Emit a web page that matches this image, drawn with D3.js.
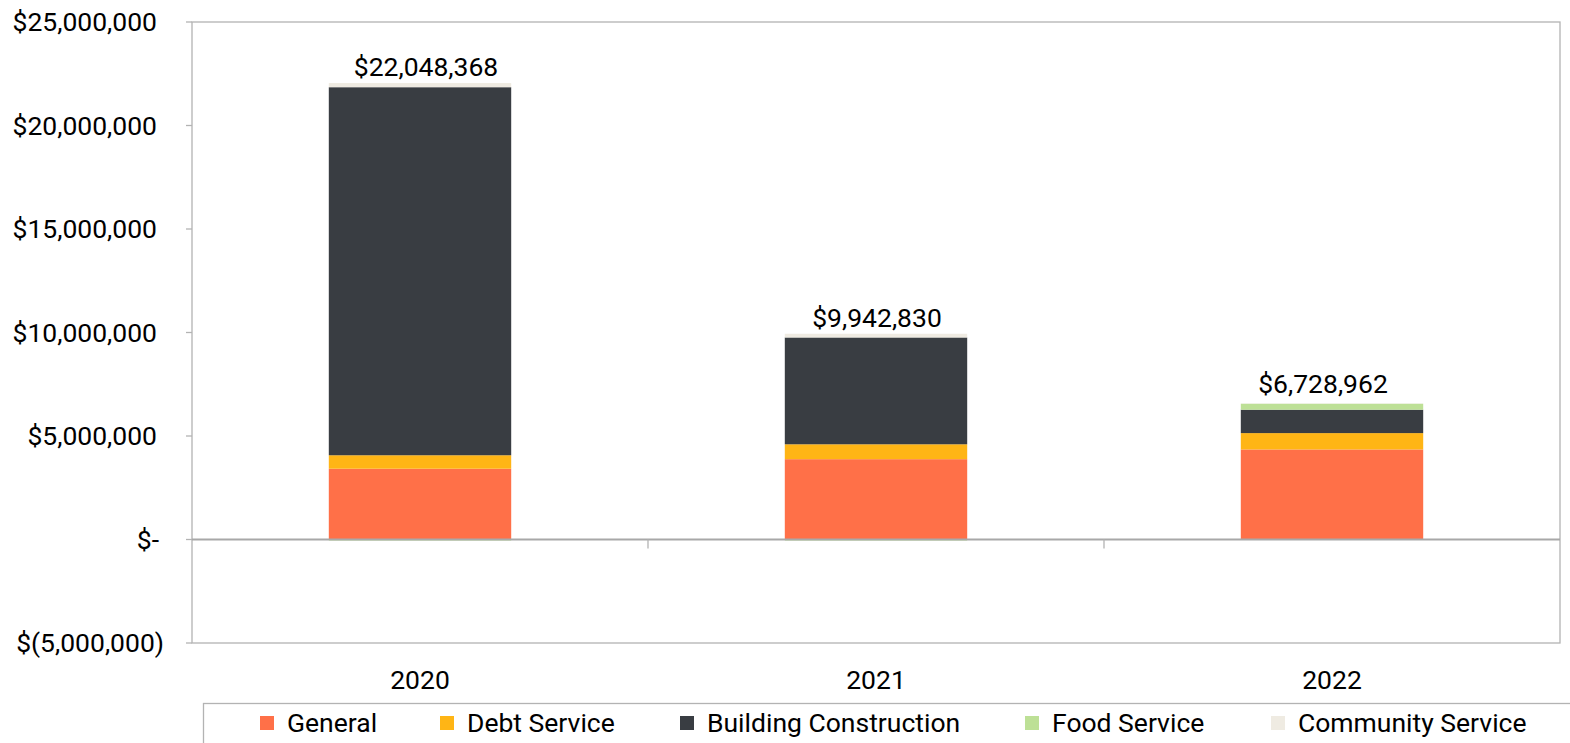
<!DOCTYPE html>
<html>
<head>
<meta charset="utf-8">
<script src="https://cdn.jsdelivr.net/npm/d3@7"></script>
<style>
  html, body { margin: 0; padding: 0; background: #fff; }
  svg { display: block; font-family: Roboto, "Noto Sans", sans-serif; }
</style>
</head>
<body>
<svg id="chart" width="1570" height="743"></svg>
<script>
const years = ["2020", "2021", "2022"];
const seriesNames = ["General", "Debt Service", "Building Construction", "Food Service", "Community Service"];
const general = [3420000, 3880000, 4350000];
const debtService = [650000, 720000, 790000];
const buildingConstruction = [17780000, 5160000, 1130000];
const foodService = [-50000, -50000, 290000];
const communityService = [200000, 180000, 20000];
const totalLabels = ["$22,048,368", "$9,942,830", "$6,728,962"];
const totalValues = [22048368, 9942830, 6728962];
const yTicks = [-5000000, 0, 5000000, 10000000, 15000000, 20000000, 25000000];
const colors = ["#FF7048", "#FFB515", "#393D42", "#BDE096", "#EFEBE2"];

const seriesValues = [general, debtService, buildingConstruction, foodService, communityService];
const labelShift = [6, 1, -9];

const svg = d3.select("#chart");
const plot = { left: 192, right: 1560, top: 22, bottom: 643 };
const FS = 26.5;

const x = d3.scaleBand().domain(years).range([plot.left, plot.right]).padding(0);
const y = d3.scaleLinear().domain([-5000000, 25000000]).range([plot.bottom, plot.top]);
const barW = x.bandwidth() * 0.4;

// plot border
svg.append("rect")
  .attr("x", plot.left).attr("y", plot.top)
  .attr("width", plot.right - plot.left).attr("height", plot.bottom - plot.top)
  .attr("fill", "none").attr("stroke", "#b3b3b3").attr("stroke-width", 1.3);

// y axis
function fmt(v) {
  if (v === 0) return "$-";
  const s = d3.format(",")(Math.abs(v));
  return v < 0 ? "$(" + s + ")" : "$" + s;
}
const yAxis = svg.append("g");
yTicks.forEach(t => {
  const yy = y(t);
  yAxis.append("line").attr("x1", plot.left - 6).attr("x2", plot.left)
    .attr("y1", yy).attr("y2", yy).attr("stroke", "#b3b3b3").attr("stroke-width", 1.3);
  yAxis.append("text")
    .attr("x", t < 0 ? 164 : (t === 0 ? 159 : 157))
    .attr("y", yy).attr("dy", "0.35em")
    .attr("text-anchor", "end")
    .attr("font-size", FS).attr("fill", "#000")
    .text(fmt(t));
});

// stacked bars
years.forEach((yr, i) => {
  let pos = 0, neg = 0;
  seriesValues.forEach((vals, s) => {
    const v = vals[i];
    let y0, y1;
    if (v >= 0) { y0 = pos; y1 = pos + v; pos = y1; }
    else { y0 = neg + v; y1 = neg; neg = y0; }
    svg.append("rect")
      .attr("x", x(yr) + (x.bandwidth() - barW) / 2)
      .attr("width", barW)
      .attr("y", y(y1))
      .attr("height", Math.max(0, y(y0) - y(y1)))
      .attr("fill", colors[s]);
  });
});

// x axis at zero
svg.append("line")
  .attr("x1", plot.left).attr("x2", plot.right)
  .attr("y1", y(0)).attr("y2", y(0))
  .attr("stroke", "#a8a8a8").attr("stroke-width", 2);
years.forEach((yr, i) => {
  if (i > 0) {
    svg.append("line").attr("x1", x(yr)).attr("x2", x(yr))
      .attr("y1", y(0)).attr("y2", y(0) + 9)
      .attr("stroke", "#b3b3b3").attr("stroke-width", 1.3);
  }
  svg.append("text")
    .attr("x", x(yr) + x.bandwidth() / 2)
    .attr("y", 680).attr("dy", "0.35em")
    .attr("text-anchor", "middle").attr("font-size", FS)
    .text(yr);
  svg.append("text")
    .attr("x", x(yr) + x.bandwidth() / 2 + labelShift[i])
    .attr("y", y(totalValues[i]) - 7)
    .attr("text-anchor", "middle").attr("font-size", FS)
    .text(totalLabels[i]);
});

// legend
svg.append("rect")
  .attr("x", 203.5).attr("y", 703.5).attr("width", 1400).attr("height", 100)
  .attr("fill", "#fff").attr("stroke", "#b3b3b3").attr("stroke-width", 1.3);
const legendX = [260, 440, 680, 1025, 1271];
seriesNames.forEach((n, s) => {
  svg.append("rect").attr("x", legendX[s]).attr("y", 716).attr("width", 14).attr("height", 14)
    .attr("fill", colors[s]);
  svg.append("text").attr("x", legendX[s] + 27).attr("y", 723).attr("dy", "0.35em")
    .attr("font-size", FS).text(n);
});
</script>
</body>
</html>
